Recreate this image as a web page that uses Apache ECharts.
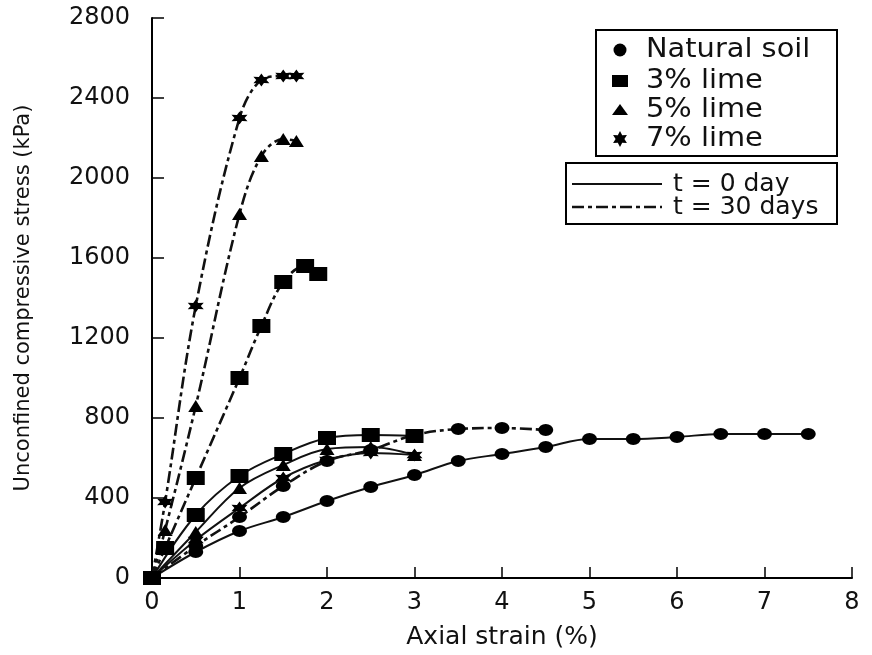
<!DOCTYPE html>
<html>
<head>
<meta charset="utf-8">
<script src="https://cdn.jsdelivr.net/npm/echarts@6/dist/echarts.min.js"></script>
<style>
  html, body { margin: 0; padding: 0; background: #fff; }
  #chart { width: 872px; height: 655px; }
</style>
</head>
<body>
<div id="chart"></div>
<script>
// Axial strain (%) and unconfined compressive stress (kPa) for each mix
const strainNat0 = [0, 0.5, 1, 1.5, 2, 2.5, 3, 3.5, 4, 4.5, 5, 5.5, 6, 6.5, 7, 7.5];
const stressNat0 = [0, 130, 235, 305, 385, 455, 515, 585, 620, 655, 695, 695, 705, 720, 720, 720];

const strainNat30 = [0, 0.5, 1, 1.5, 2, 2.5, 3, 3.5, 4, 4.5];
const stressNat30 = [0, 160, 305, 460, 585, 640, 715, 745, 750, 740];

const strainLimeT0 = [0, 0.5, 1, 1.5, 2, 2.5, 3];
const stressLime3T0 = [0, 315, 510, 620, 700, 715, 710];
const stressLime5T0 = [0, 230, 450, 565, 645, 655, 615];
const stressLime7T0 = [0, 190, 350, 500, 590, 625, 615];

const strainLime3T30 = [0, 0.15, 0.5, 1, 1.25, 1.5, 1.75, 1.9];
const stressLime3T30 = [0, 150, 500, 1000, 1260, 1480, 1560, 1520];

const strainLime57T30 = [0, 0.15, 0.5, 1, 1.25, 1.5, 1.65];
const stressLime5T30 = [0, 240, 860, 1820, 2110, 2195, 2185];
const stressLime7T30 = [0, 380, 1360, 2300, 2490, 2510, 2510];

const xTicks = [0, 1, 2, 3, 4, 5, 6, 7, 8];
const yTicks = [0, 400, 800, 1200, 1600, 2000, 2400, 2800];

const mixNames = ['Natural soil', '3% lime', '5% lime', '7% lime'];
const curingLabels = ['t = 0 day', 't = 30 days'];

// six-pointed star outline, unit radius, alternating outer / inner vertices
const starUnit = [];
for (let k = 0; k < 12; k++) {
  const a = (k * 30 - 90) * Math.PI / 180;
  const r = k % 2 === 0 ? 1 : 0.55;
  starUnit.push([r * Math.cos(a), r * Math.sin(a)]);
}
const STAR = 'path://' + starUnit.map((p, i) => (i ? 'L' : 'M') + (10 + 10 * p[0]).toFixed(2) + ' ' + (10 + 10 * p[1]).toFixed(2)).join(' ') + ' Z';
const DASH_DOT = [12, 4, 4, 4];
const FONT = 'DejaVu Sans';

const pairs = (xs, ys) => xs.map((x, i) => [x, ys[i]]);

function curve(name, xs, ys, symbol, size, dashed) {
  return {
    name: name,
    type: 'line',
    data: pairs(xs, ys),
    smooth: 0.35,
    symbol: symbol,
    symbolSize: size,
    showAllSymbol: true,
    lineStyle: { color: '#111', width: dashed ? 2.6 : 2, type: dashed ? DASH_DOT : 'solid' },
    itemStyle: { color: '#000', borderWidth: 0 },
    emphasis: { disabled: true },
    animation: false
  };
}

const SZ_CIRCLE = [15, 12];
const SZ_RECT = [18, 14];
const SZ_TRI = [15, 12];
const SZ_STAR = [16, 13];

const series = [
  curve(mixNames[0], strainNat0, stressNat0, 'circle', SZ_CIRCLE, false),
  curve(mixNames[0], strainNat30, stressNat30, 'circle', SZ_CIRCLE, true),
  curve(mixNames[3], strainLimeT0, stressLime7T0, STAR, SZ_STAR, false),
  curve(mixNames[2], strainLimeT0, stressLime5T0, 'triangle', SZ_TRI, false),
  curve(mixNames[1], strainLimeT0, stressLime3T0, 'rect', SZ_RECT, false),
  curve(mixNames[1], strainLime3T30, stressLime3T30, 'rect', SZ_RECT, true),
  curve(mixNames[2], strainLime57T30, stressLime5T30, 'triangle', SZ_TRI, true),
  curve(mixNames[3], strainLime57T30, stressLime7T30, STAR, SZ_STAR, true)
];

// legend boxes
const LX = 596, LY = 30, LW = 241, LH = 126;
const legendRows = [50, 81, 110, 139];
const SYM_X = 620;
const legendSymbols = [
  { type: 'circle', shape: { cx: SYM_X, cy: legendRows[0], r: 6.5 } },
  { type: 'rect', shape: { x: SYM_X - 8, y: legendRows[1] - 6, width: 16, height: 12 } },
  { type: 'polygon', shape: { points: [[SYM_X, legendRows[2] - 6], [SYM_X + 8, legendRows[2] + 5], [SYM_X - 8, legendRows[2] + 5]] } },
  { type: 'polygon', shape: { points: starUnit.map(p => [SYM_X + 8 * p[0], legendRows[3] + 8 * p[1]]) } }
];

const graphic = [
  { type: 'rect', z: 100, shape: { x: LX, y: LY, width: LW, height: LH }, style: { fill: '#fff', stroke: '#000', lineWidth: 2 } }
];
legendSymbols.forEach((s, i) => {
  graphic.push(Object.assign({ z: 101, style: { fill: '#000' } }, s));
  graphic.push({
    type: 'text', z: 101, x: 646, y: legendRows[i], scaleX: 1.11,
    style: { text: mixNames[i], font: '26px "' + FONT + '"', fill: '#111', verticalAlign: 'middle', align: 'left' }
  });
});

const L2X = 566, L2Y = 163, L2W = 271, L2H = 61;
const curingRows = [184, 207];
graphic.push({ type: 'rect', z: 100, shape: { x: L2X, y: L2Y, width: L2W, height: L2H }, style: { fill: '#fff', stroke: '#000', lineWidth: 2 } });
graphic.push({ type: 'line', z: 101, shape: { x1: 572, y1: curingRows[0], x2: 662, y2: curingRows[0] }, style: { stroke: '#111', lineWidth: 2 } });
graphic.push({ type: 'line', z: 101, shape: { x1: 572, y1: curingRows[1], x2: 662, y2: curingRows[1] }, style: { stroke: '#111', lineWidth: 2.4, lineDash: DASH_DOT } });
curingLabels.forEach((t, i) => {
  graphic.push({
    type: 'text', z: 101, x: 673, y: curingRows[i],
    style: { text: t, font: '25px "' + FONT + '"', fill: '#111', verticalAlign: 'middle', align: 'left' }
  });
});

const chart = echarts.init(document.getElementById('chart'), null, { renderer: 'canvas' });
chart.setOption({
  animation: false,
  backgroundColor: '#fff',
  grid: { left: 152, right: 20, top: 18, bottom: 77, containLabel: false },
  xAxis: {
    type: 'value', min: xTicks[0], max: xTicks[xTicks.length - 1], interval: 1,
    name: 'Axial strain (%)', nameLocation: 'middle', nameGap: 47,
    nameTextStyle: { fontFamily: FONT, fontSize: 25, color: '#111' },
    axisLine: { lineStyle: { color: '#000', width: 2 } },
    axisTick: { inside: true, length: 11, lineStyle: { color: '#000', width: 1.5 } },
    axisLabel: { margin: 13, fontFamily: FONT, fontSize: 24, color: '#111', formatter: v => String(v) },
    splitLine: { show: false }
  },
  yAxis: {
    type: 'value', min: yTicks[0], max: yTicks[yTicks.length - 1], interval: 400,
    name: 'Unconfined compressive stress (kPa)', nameLocation: 'middle', nameGap: 118, nameRotate: 90,
    nameTextStyle: { fontFamily: FONT, fontSize: 21, color: '#111' },
    axisLine: { lineStyle: { color: '#000', width: 2 } },
    axisTick: { inside: true, length: 12, lineStyle: { color: '#000', width: 1.5 } },
    axisLabel: { margin: 22, fontFamily: FONT, fontSize: 24, color: '#111', formatter: v => String(v) },
    splitLine: { show: false }
  },
  series: series,
  graphic: graphic
});
</script>
</body>
</html>
